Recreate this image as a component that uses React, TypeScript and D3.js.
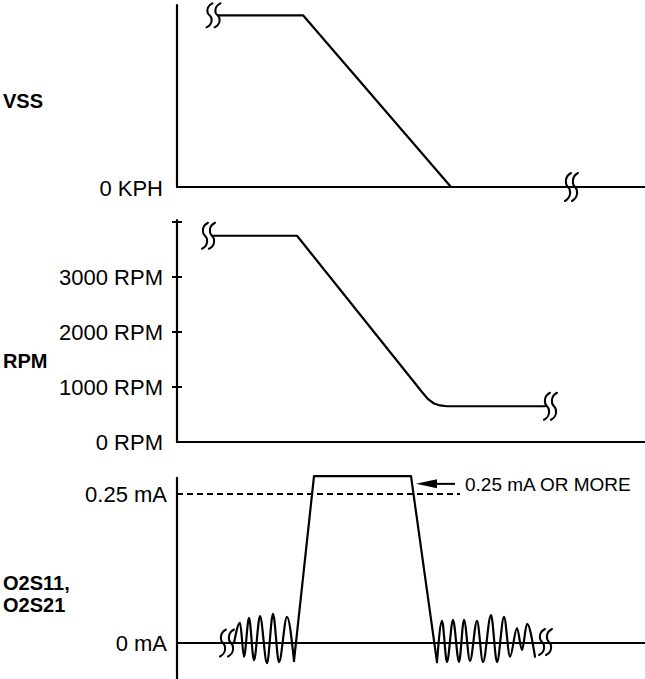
import React from 'react';
import * as d3 from 'd3';

const W = 645;
const H = 679;

// ---------- data ----------
// time axis in seconds (no labels in the original)
const timeDomain = [0, 46.8];

// VSS panel
const vssTime = [4.1, 12.6, 27.4];
const vssValues = [100, 100, 0];
const vssStartBreaks = [3.25, 4.05];
const vssBaseBreaks = [39.1, 39.8];
const vssTickLabel = '0 KPH';

// RPM panel
const rpmTime = [3.5, 12.0, 24.5, 25.1, 25.7, 26.3, 27.0, 36.8];
const rpmValues = [3750, 3750, 910, 780, 700, 665, 650, 650];
const rpmTicks = [0, 1000, 2000, 3000, 4000];
const rpmTickLabels = ['0 RPM', '1000 RPM', '2000 RPM', '3000 RPM', ''];
const rpmStartBreaks = [2.8, 3.5];
const rpmEndBreaks = [37.0, 37.7];

// O2 sensor current panel
const o2LeftTime = [5.7, 6.3, 6.7, 7.2, 7.7, 8.3, 9.0, 9.6, 10.2, 11.0, 11.7];
const o2LeftValues = [0.0, 0.034, -0.023, 0.042, -0.029, 0.045, -0.034, 0.049, -0.032, 0.044, -0.030];
const o2PulseTime = [11.7, 13.7, 23.4, 26.0];
const o2PulseValues = [-0.030, 0.28, 0.28, -0.032];
const o2RightTime = [26.0, 26.5, 27.0, 27.6, 28.2, 28.7, 29.3, 30.0, 30.6, 31.4, 32.0, 32.7, 33.3, 34.0, 34.5, 35.0, 35.8];
const o2RightValues = [-0.032, 0.037, -0.032, 0.039, -0.032, 0.039, -0.030, 0.037, -0.032, 0.047, -0.032, 0.044, -0.023, 0.025, -0.012, 0.032, -0.023];
const o2Ticks = [0, 0.25];
const o2TickLabels = ['0 mA', '0.25 mA'];
const o2LeftBreaks = [4.6, 5.4];
const o2RightBreaks = [36.5, 37.2];
const o2Threshold = 0.25;
const o2ThresholdEnd = 28.3;
const annotationText = '0.25 mA OR MORE';

const panelTitles = ['VSS', 'RPM'];
const o2TitleLines = ['O2S11,', 'O2S21'];

// ---------- layout ----------
const axisX = 177;
const rightX = 645;
const FONT = '"Liberation Sans", Arial, Helvetica, sans-serif';
const SW = 2.2;

const x = d3.scaleLinear().domain(timeDomain).range([axisX, axisX + 468]);
const yV = d3.scaleLinear().domain([0, 106]).range([187, 5]);
const yR = d3.scaleLinear().domain([0, 4000]).range([442, 222]);
const yO = d3.scaleLinear().domain([0, 0.25]).range([643, 494]);

const breakPath = (cx: number, cy: number, h: number) => {
  const a = h / 2;
  return `M${cx + 3},${cy - a} C${cx - 3.5},${cy - a * 0.75} ${cx - 3},${cy - a * 0.2} ${cx},${cy} C${cx + 3},${cy + a * 0.2} ${cx + 3.5},${cy + a * 0.75} ${cx - 3},${cy + a}`;
};

const lineLinear = (xs: number[], ys: number[], yS: any) =>
  d3.line<number>().x((_, i) => x(xs[i])).y((_, i) => yS(ys[i])).curve(d3.curveLinear)(xs) || '';
const lineSmooth = (xs: number[], ys: number[], yS: any) =>
  d3.line<number>().x((_, i) => x(xs[i])).y((_, i) => yS(ys[i])).curve(d3.curveMonotoneX)(xs) || '';

export default function App() {
  const stroke = { stroke: '#000', strokeWidth: SW, fill: 'none', strokeLinejoin: 'round' as const, strokeLinecap: 'round' as const };
  const brk = { stroke: '#000', strokeWidth: 2, fill: 'none', strokeLinecap: 'round' as const };
  const lbl = { fontFamily: FONT, fontSize: 22, fill: '#000' };
  const bold = { fontFamily: FONT, fontSize: 20, fontWeight: 700, fill: '#000' };

  const vssBaseY = yV(0);
  const rpmBaseY = yR(0);
  const o2BaseY = yO(0);
  const arrowTipX = x(23.9);
  const arrowY = yO(0.267);

  return (
    <svg width={W} height={H} style={{ position: 'absolute', left: 0, top: 0, background: '#fff' }}>
      {/* ---- VSS ---- */}
      <line x1={axisX} x2={axisX} y1={yV(106)} y2={vssBaseY} {...stroke} />
      <line x1={axisX} x2={rightX} y1={vssBaseY} y2={vssBaseY} {...stroke} />
      <path d={lineLinear(vssTime, vssValues, yV)} {...stroke} />
      {vssStartBreaks.map((t, i) => (
        <path key={'vb' + i} d={breakPath(x(t), yV(vssValues[0]), 24)} {...brk} />
      ))}
      {vssBaseBreaks.map((t, i) => (
        <path key={'vbb' + i} d={breakPath(x(t), vssBaseY, 28)} {...brk} />
      ))}
      <text x={163} y={vssBaseY + 8.5} textAnchor="end" {...lbl}>{vssTickLabel}</text>
      <text x={3} y={108} {...bold}>{panelTitles[0]}</text>

      {/* ---- RPM ---- */}
      <line x1={axisX} x2={axisX} y1={yR(4000) - 2} y2={rpmBaseY} {...stroke} />
      <line x1={axisX} x2={rightX} y1={rpmBaseY} y2={rpmBaseY} {...stroke} />
      {rpmTicks.filter((v) => v > 0).map((v) => (
        <line key={'rt' + v} x1={axisX - 5} x2={axisX + 5} y1={yR(v)} y2={yR(v)} stroke="#000" strokeWidth={2} />
      ))}
      {rpmTicks.map((v, i) =>
        rpmTickLabels[i] ? (
          <text key={'rl' + v} x={163} y={yR(v) + 8} textAnchor="end" {...lbl}>{rpmTickLabels[i]}</text>
        ) : null
      )}
      <path d={lineLinear(rpmTime, rpmValues, yR)} {...stroke} />
      {rpmStartBreaks.map((t, i) => (
        <path key={'rb' + i} d={breakPath(x(t), yR(rpmValues[0]), 26)} {...brk} />
      ))}
      {rpmEndBreaks.map((t, i) => (
        <path key={'re' + i} d={breakPath(x(t), yR(rpmValues[rpmValues.length - 1]), 27)} {...brk} />
      ))}
      <text x={3} y={368} {...bold}>{panelTitles[1]}</text>

      {/* ---- O2 ---- */}
      <line x1={axisX} x2={axisX} y1={yO(0.277)} y2={H} {...stroke} />
      <line x1={axisX} x2={rightX} y1={o2BaseY} y2={o2BaseY} {...stroke} />
      <line x1={axisX} x2={x(o2ThresholdEnd)} y1={yO(o2Threshold)} y2={yO(o2Threshold)} stroke="#000" strokeWidth={1.8} strokeDasharray="6,4" />
      {o2Ticks.map((v, i) => (
        <text key={'ol' + v} x={167} y={yO(v) + 8} textAnchor="end" {...lbl}>{o2TickLabels[i]}</text>
      ))}
      <path d={lineSmooth(o2LeftTime, o2LeftValues, yO)} {...stroke} />
      <path d={lineLinear(o2PulseTime, o2PulseValues, yO)} {...stroke} />
      <path d={lineSmooth(o2RightTime, o2RightValues, yO)} {...stroke} />
      {o2LeftBreaks.map((t, i) => (
        <path key={'ob' + i} d={breakPath(x(t), o2BaseY, 27)} {...brk} />
      ))}
      {o2RightBreaks.map((t, i) => (
        <path key={'orb' + i} d={breakPath(x(t), o2BaseY - 1, 26)} {...brk} />
      ))}
      {/* annotation arrow */}
      <polygon points={`${arrowTipX},${arrowY} ${arrowTipX + 21},${arrowY - 4.5} ${arrowTipX + 21},${arrowY + 4.5}`} fill="#000" />
      <line x1={arrowTipX + 18} x2={arrowTipX + 39} y1={arrowY} y2={arrowY} stroke="#000" strokeWidth={2} />
      <text x={465} y={arrowY + 7} fontFamily={FONT} fontSize={19} fill="#000">{annotationText}</text>
      <text x={3} y={590} {...bold}>{o2TitleLines[0]}</text>
      <text x={3} y={612} {...bold}>{o2TitleLines[1]}</text>
    </svg>
  );
}
